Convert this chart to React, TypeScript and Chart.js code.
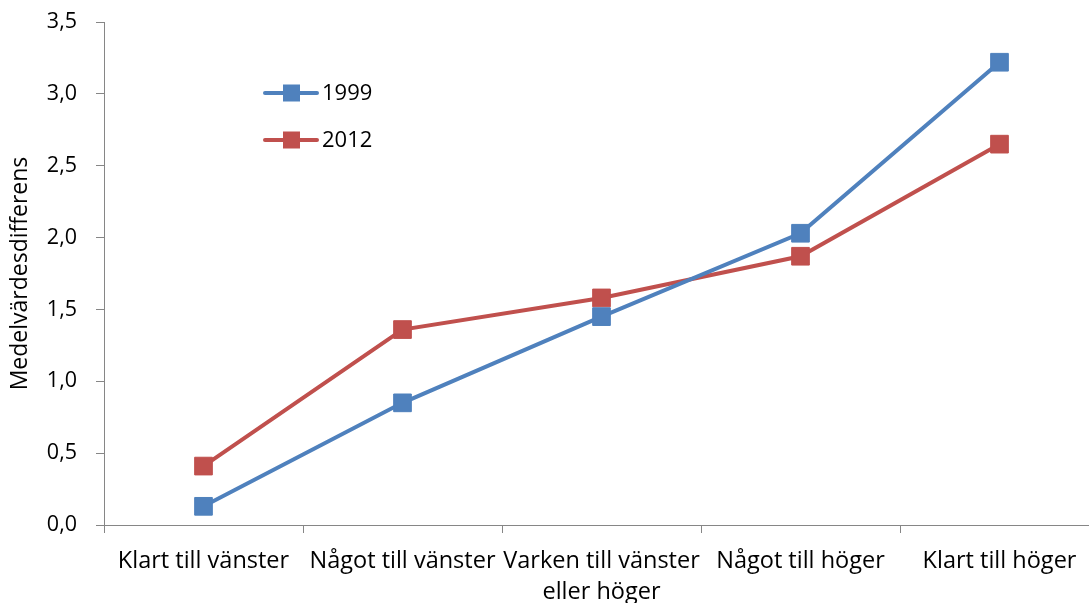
import React, { useEffect, useRef } from "react";
import { Chart, registerables } from "chart.js";

Chart.register(...registerables);

const categories: (string | string[])[] = [
  "Klart till vänster",
  "Något till vänster",
  ["Varken till vänster", "eller höger"],
  "Något till höger",
  "Klart till höger",
];
const series1999 = [0.13, 0.85, 1.45, 2.03, 3.22];
const series2012 = [0.41, 1.36, 1.58, 1.87, 2.65];
const seriesNames = ["1999", "2012"];
const yTicks = [0, 0.5, 1, 1.5, 2, 2.5, 3, 3.5];
const yTitle = "Medelvärdesdifferens";

const BLUE = "#4F81BD";
const RED = "#C0504D";
const AXIS = "#868686";
const FONT = "'Open Sans', Carlito, Calibri, sans-serif";

const legendPlugin = {
  id: "insideLegend",
  afterDraw(chart: any) {
    const ctx = chart.ctx;
    const items = [
      { name: seriesNames[0], color: BLUE, y: 93 },
      { name: seriesNames[1], color: RED, y: 140 },
    ];
    ctx.save();
    for (const it of items) {
      ctx.strokeStyle = it.color;
      ctx.lineWidth = 4;
      ctx.lineCap = "round";
      ctx.beginPath();
      ctx.moveTo(265, it.y);
      ctx.lineTo(317, it.y);
      ctx.stroke();
      ctx.fillStyle = it.color;
      ctx.fillRect(283, it.y - 8.5, 17, 17);
      ctx.fillStyle = "#000";
      ctx.font = `22px ${FONT}`;
      ctx.textBaseline = "middle";
      ctx.textAlign = "left";
      ctx.fillText(it.name, 322, it.y + 1);
    }
    ctx.restore();
  },
};

export default function App() {
  const ref = useRef<HTMLCanvasElement | null>(null);
  useEffect(() => {
    if (!ref.current) return;
    const chart = new Chart(ref.current, {
      type: "line",
      data: {
        labels: categories as any,
        datasets: [
          {
            label: seriesNames[0],
            data: series1999,
            borderColor: BLUE,
            backgroundColor: BLUE,
            borderWidth: 4,
            pointStyle: "rect",
            pointRadius: 12.5,
            pointBorderWidth: 1,
            pointBorderColor: BLUE,
            pointBackgroundColor: BLUE,
            tension: 0,
          },
          {
            label: seriesNames[1],
            data: series2012,
            borderColor: RED,
            backgroundColor: RED,
            borderWidth: 4,
            pointStyle: "rect",
            pointRadius: 12.5,
            pointBorderWidth: 1,
            pointBorderColor: RED,
            pointBackgroundColor: RED,
            tension: 0,
          },
        ],
      },
      options: {
        animation: false,
        responsive: false,
        maintainAspectRatio: false,
        layout: { autoPadding: false, padding: { top: 22, left: 0, right: 0, bottom: 0 } },
        plugins: {
          legend: { display: false },
          tooltip: { enabled: false },
        },
        scales: {
          x: {
            offset: true,
            grid: {
              offset: true,
              drawOnChartArea: false,
              drawTicks: true,
              tickLength: 8,
              color: AXIS,
            },
            border: { color: AXIS, width: 1 },
            ticks: {
              color: "#000",
              font: { family: FONT, size: 23.5, lineHeight: 1.32 },
              padding: 13,
              maxRotation: 0,
              autoSkip: false,
            },
            afterFit: (s: any) => {
              s.height = 78;
              s.paddingLeft = 0;
              s.paddingRight = 0;
            },
          },
          y: {
            min: 0,
            max: 3.5,
            afterBuildTicks: (s: any) => {
              s.ticks = yTicks.map((v) => ({ value: v }));
            },
            grid: {
              drawOnChartArea: false,
              drawTicks: true,
              tickLength: 8,
              color: AXIS,
            },
            border: { color: AXIS, width: 1 },
            ticks: {
              color: "#000",
              font: { family: FONT, size: 21.5 },
              padding: 19,
              callback: (v: any) => Number(v).toFixed(1).replace(".", ","),
            },
            title: {
              display: true,
              text: yTitle,
              color: "#000",
              font: { family: FONT, size: 23 },
              padding: { top: 7, bottom: 0 },
            },
            afterFit: (s: any) => {
              s.width = 104;
              s.paddingTop = 0;
              s.paddingBottom = 0;
            },
          },
        },
      },
      plugins: [legendPlugin],
    });
    return () => chart.destroy();
  }, []);
  return (
    <div style={{ position: "fixed", left: 0, top: 0, width: 1099, height: 603, background: "#fff" }}>
      <canvas ref={ref} width={1099} height={603} style={{ width: 1099, height: 603 }} />
    </div>
  );
}
